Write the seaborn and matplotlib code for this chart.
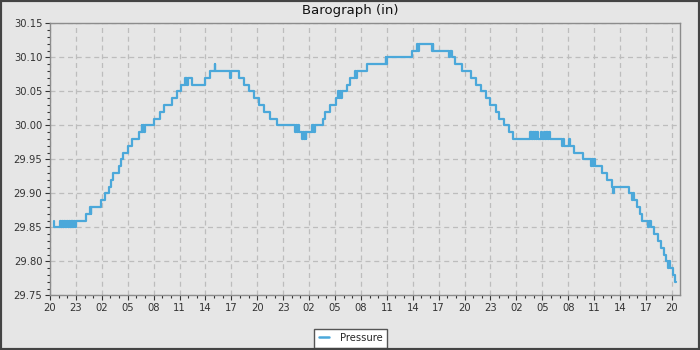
import matplotlib
matplotlib.use("Agg")
import matplotlib.pyplot as plt
import seaborn as sns
import pandas as pd
from matplotlib.ticker import MultipleLocator, FixedFormatter, FixedLocator
from matplotlib.patches import Rectangle
from matplotlib.lines import Line2D

# ---- data (hours since the first 20:00 tick, pressure in inHg) ----
hours = [
    0.45, 0.5,
    1.2, 1.3, 1.4, 1.5, 1.6, 1.7, 1.8, 1.9, 2.0, 2.1, 2.2, 2.3, 2.4, 2.5, 2.6, 2.7, 2.8, 2.9,
    3.05, 4.2, 4.6, 4.7, 4.8, 4.9, 5.95, 6.4, 6.8, 7.1, 7.3, 7.95, 8.25, 8.5, 9.0, 9.55,
    10.3, 10.6, 10.7, 10.8, 10.9, 11.0, 12.1, 12.7, 13.15, 14.15, 14.7, 15.2,
    15.6, 15.7, 15.8, 15.9, 16.0, 16.5, 18.0, 18.55, 19.05, 19.12, 20.85, 20.92,
    21.9, 22.45, 23.05, 23.65, 24.2, 24.75, 25.45, 26.25,
    28.4, 28.5, 28.6, 28.7, 28.8, 29.2, 29.3, 29.4, 29.5, 29.6, 29.7,
    30.3, 30.4, 30.5, 30.6, 30.7, 30.85, 31.6, 31.8, 32.45, 33.15,
    33.4, 33.5, 33.6, 33.7, 33.85, 34.4, 34.7, 35.3, 35.4, 35.6,
    36.75, 38.85, 38.95, 39.05, 41.95, 42.5, 42.6, 42.7, 44.2, 44.3, 44.4,
    46.25, 46.35, 46.5, 46.9, 47.7, 48.75, 49.3, 49.9, 50.5, 50.9, 51.7, 52.0,
    52.6, 53.2, 53.65,
    55.55, 55.65, 55.75, 55.85, 55.95, 56.05, 56.15, 56.25, 56.35, 56.5,
    56.9, 56.97,
    57.2, 57.3, 57.4, 57.5, 57.6, 57.7, 57.8, 57.95,
    59.3, 59.4, 59.5, 60.1, 60.17, 60.67, 61.67,
    62.65, 62.75, 62.85, 62.95, 63.15, 63.9, 64.5, 65.05, 65.2, 65.27,
    67.05, 67.4, 67.5, 67.6, 67.95, 68.35, 68.5, 69.3, 69.4, 69.55, 69.9,
    70.4, 70.7, 71.1, 71.3, 71.55, 71.65, 71.75, 72.1, 72.4, 72.45,
]
pressure = [
    29.86, 29.85,
    29.86, 29.85, 29.86, 29.85, 29.86, 29.85, 29.86, 29.85, 29.86, 29.85, 29.86, 29.85, 29.86, 29.85, 29.86, 29.85, 29.86, 29.85,
    29.86, 29.87, 29.88, 29.87, 29.88, 29.88, 29.89, 29.90, 29.91, 29.92, 29.93, 29.94, 29.95, 29.96, 29.97, 29.98,
    29.99, 30.00, 29.99, 30.00, 29.99, 30.00, 30.01, 30.02, 30.03, 30.04, 30.05, 30.06,
    30.07, 30.06, 30.07, 30.06, 30.07, 30.06, 30.07, 30.08, 30.09, 30.08, 30.07, 30.08,
    30.07, 30.06, 30.05, 30.04, 30.03, 30.02, 30.01, 30.00,
    29.99, 30.00, 29.99, 30.00, 29.99, 29.98, 29.99, 29.98, 29.99, 29.98, 29.99,
    30.00, 29.99, 30.00, 29.99, 30.00, 30.00, 30.01, 30.02, 30.03, 30.04,
    30.05, 30.04, 30.05, 30.04, 30.05, 30.06, 30.07, 30.08, 30.07, 30.08,
    30.09, 30.10, 30.09, 30.10, 30.11, 30.12, 30.11, 30.12, 30.11, 30.12, 30.11,
    30.10, 30.11, 30.10, 30.09, 30.08, 30.07, 30.06, 30.05, 30.04, 30.03, 30.02, 30.01,
    30.00, 29.99, 29.98,
    29.99, 29.98, 29.99, 29.98, 29.99, 29.98, 29.99, 29.98, 29.99, 29.98,
    29.99, 29.98,
    29.99, 29.98, 29.99, 29.98, 29.99, 29.98, 29.99, 29.98,
    29.97, 29.98, 29.97, 29.98, 29.97, 29.96, 29.95,
    29.94, 29.95, 29.94, 29.95, 29.94, 29.93, 29.92, 29.91, 29.90, 29.91,
    29.90, 29.89, 29.90, 29.89, 29.88, 29.87, 29.86, 29.85, 29.86, 29.85, 29.84,
    29.83, 29.82, 29.81, 29.80, 29.79, 29.80, 29.79, 29.78, 29.77, 29.77,
]
x_tick_labels = ["20", "23", "02", "05", "08", "11", "14", "17"] * 3 + ["20"]
series_name = "Pressure"
title = "Barograph (in)"

BG = "#e6e6e6"
LINE = "#4ba8da"

sns.set_theme(style="whitegrid", rc={
    "axes.facecolor": BG,
    "figure.facecolor": BG,
    "axes.edgecolor": "#8c8c8c",
    "axes.linewidth": 1.0,
    "grid.color": "#bdbdbd",
    "grid.linestyle": (0, (4, 3)),
    "grid.linewidth": 0.9,
    "xtick.bottom": True,
    "ytick.left": True,
    "xtick.color": "#333333",
    "ytick.color": "#333333",
})
plt.rcParams["font.family"] = ["DejaVu Sans"]
plt.rcParams["font.stretch"] = "condensed"

fig = plt.figure(figsize=(7, 3.5), dpi=100)
ax = fig.add_axes([50 / 700, 1 - 295.3 / 350, 630 / 700, 272 / 350])

df = pd.DataFrame({"Hours": hours, series_name: pressure})
sns.lineplot(data=df, x="Hours", y=series_name, ax=ax, drawstyle="steps-post",
             color=LINE, linewidth=1.6, legend=False)

ax.set_xlim(0, 72.95)
ax.set_ylim(29.75, 30.15)
ax.xaxis.set_major_locator(FixedLocator([3 * i for i in range(len(x_tick_labels))]))
ax.xaxis.set_major_formatter(FixedFormatter(x_tick_labels))
ax.xaxis.set_minor_locator(MultipleLocator(1))
ax.yaxis.set_major_locator(MultipleLocator(0.05))
ax.yaxis.set_minor_locator(MultipleLocator(0.01))
ax.yaxis.set_major_formatter(matplotlib.ticker.FormatStrFormatter("%.2f"))
ax.tick_params(which="major", length=3.5, width=0.8, labelsize=8, pad=2)
ax.tick_params(which="minor", length=2.5, width=0.8)
ax.grid(True, which="major")
ax.grid(False, which="minor")
ax.set_xlabel("")
ax.set_ylabel("")
for s in ax.spines.values():
    s.set_visible(True)
    s.set_color("#8c8c8c")

fig.text(0.5, 1 - 10.5 / 350, title, ha="center", va="center", fontsize=9.5,
         fontstretch="normal", color="#111111")

handle = Line2D([], [], color=LINE, linewidth=1.8)
leg = fig.legend([handle], [series_name], loc="center", bbox_to_anchor=(350.5 / 700, 1 - 338.3 / 350),
                 fontsize=8, frameon=True, fancybox=False, framealpha=1, edgecolor="#555555",
                 facecolor="white", handlelength=0.95, handletextpad=0.95, borderpad=0.4,
                 borderaxespad=0)
leg.get_frame().set_linewidth(1.0)

fig.patches.append(Rectangle((0, 0), 1, 1, transform=fig.transFigure, fill=False,
                             edgecolor="#444444", linewidth=3, zorder=10))

fig.savefig("out.png", dpi=100, facecolor=BG)
